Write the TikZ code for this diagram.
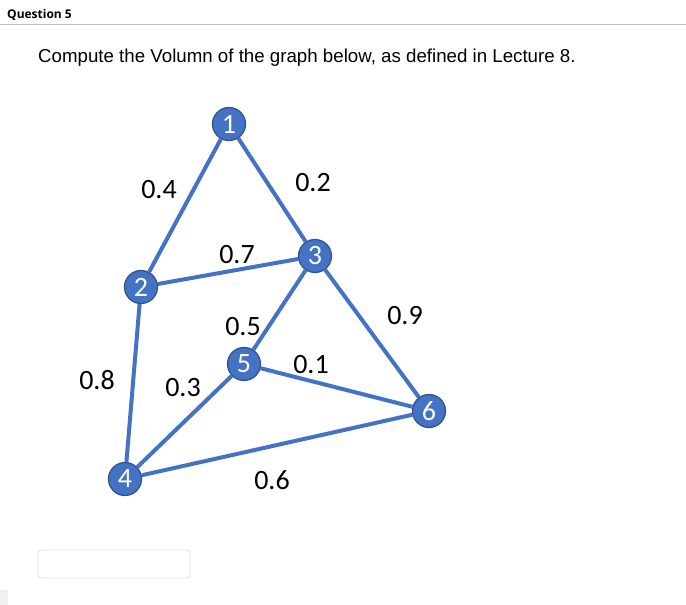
\documentclass[tikz,border=0pt]{standalone}
\usepackage{fontspec}
\setmainfont{Liberation Sans}
\newfontfamily\weightfont{Carlito}
\newfontfamily\headfont{Open Sans}
\usetikzlibrary{positioning}
\definecolor{vertexblue}{HTML}{4472C4}
\definecolor{vertexedge}{HTML}{2F528F}

\begin{document}
\begin{tikzpicture}[x=1pt,y=-1pt]
\tikzstyle{vertex} = [circle, draw=vertexedge, line width=1.2pt, fill=vertexblue, minimum size=33pt, inner sep=0pt, text=white, font=\weightfont\fontsize{28}{28}\selectfont]
\tikzstyle{weight} = [font=\weightfont\fontsize{28}{28}\selectfont, inner sep=0pt]
\tikzstyle{connector} = [draw=vertexblue, line width=4pt]
\tikzstyle{answer} = [draw=black!12, rounded corners=3pt, line width=0.8pt, minimum width=152pt, minimum height=28pt, inner sep=0pt]

\useasboundingbox (0,0) rectangle (686,605);

\node [anchor=base west, inner sep=0pt, font=\headfont\bfseries\fontsize{12}{12}\selectfont] at (7,19) (head) {Question 5};
\draw [black!25, line width=1pt] (0,24) -- (686,24);
\node [anchor=base west, inner sep=0pt, font=\fontsize{18.7}{18.7}\selectfont] at (38,62) (task) {Compute the Volumn of the graph below, as defined in Lecture 8.};

\node [vertex] at (229,124) (v1) {1};
\node [vertex] at (141,287) (v2) {2};
\node [vertex] at (315,256) (v3) {3};
\node [vertex] at (125,479) (v4) {4};
\node [vertex] at (244,364) (v5) {5};
\node [vertex] at (429,411) (v6) {6};

\begin{scope}[on background layer/.try]
\path [connector] (v1) -- (v2);
\path [connector] (v1) -- (v3);
\path [connector] (v2) -- (v3);
\path [connector] (v3) -- (v5);
\path [connector] (v3) -- (v6);
\path [connector] (v2) -- (v4);
\path [connector] (v4) -- (v5);
\path [connector] (v5) -- (v6);
\path [connector] (v4) -- (v6);
\end{scope}

\node [weight] at (159,190) (w12) {0.4};
\node [weight] at (313,183) (w13) {0.2};
\node [weight] at (237,255) (w23) {0.7};
\node [weight] at (243,327) (w35) {0.5};
\node [weight] at (311,365) (w56) {0.1};
\node [weight] at (405,316) (w36) {0.9};
\node [weight] at (97,380) (w24) {0.8};
\node [weight] at (183,388) (w45) {0.3};
\node [weight] at (272,480) (w46) {0.6};

\node [answer] at (114,564) (box) {};
\fill [black!6] (0,590) rectangle (8,605);
\end{tikzpicture}
\end{document}
